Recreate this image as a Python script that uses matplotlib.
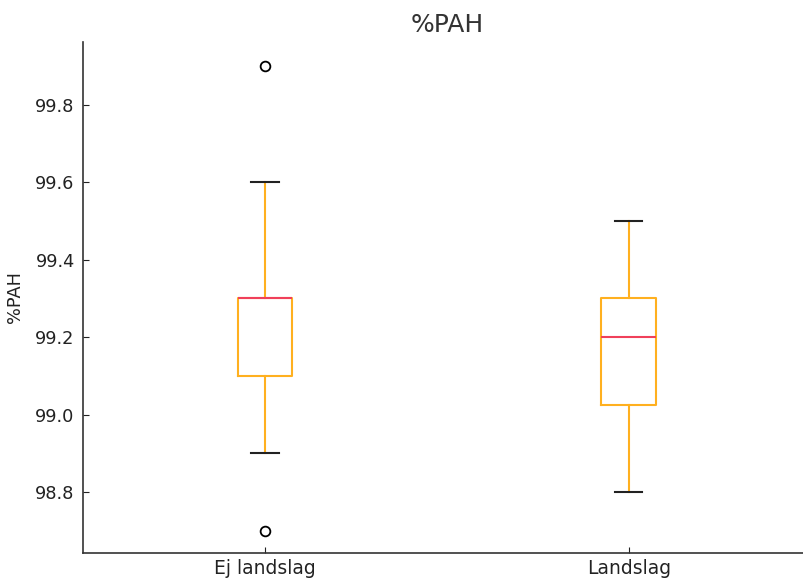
import matplotlib.pyplot as plt

# Box statistics
labels = ['Ej landslag', 'Landslag']
whislo = [98.9, 98.8]
q1 = [99.1, 99.025]
med = [99.3, 99.2]
q3 = [99.3, 99.3]
whishi = [99.6, 99.5]
fliers = [[98.7, 99.9], []]

stats = []
for i in range(len(labels)):
    stats.append({'label': labels[i], 'whislo': whislo[i], 'q1': q1[i],
                  'med': med[i], 'q3': q3[i], 'whishi': whishi[i],
                  'fliers': fliers[i]})

fig = plt.figure(figsize=(8.04, 5.78), dpi=100)
ax = fig.add_axes([0.1032, 0.0433, 0.905, 0.884])

ax.bxp(stats, widths=0.15, showfliers=True,
       boxprops=dict(color='#FFB01F', linewidth=1.5),
       whiskerprops=dict(color='#FFB01F', linewidth=1.5),
       capprops=dict(color='#222222', linewidth=1.5),
       medianprops=dict(color='#F0405A', linewidth=1.5),
       flierprops=dict(marker='o', markerfacecolor='none',
                       markeredgecolor='black', markersize=7, markeredgewidth=1.3))

ax.set_xlim(0.5, 2.5)
ax.set_ylim(98.642, 99.963)
ax.set_yticks([98.8, 99.0, 99.2, 99.4, 99.6, 99.8])
ax.set_yticklabels(['98.8', '99.0', '99.2', '99.4', '99.6', '99.8'])
ax.spines['top'].set_visible(False)
ax.spines['right'].set_visible(False)
for s in ['left', 'bottom']:
    ax.spines[s].set_color('#333333')
    ax.spines[s].set_linewidth(1.2)
ax.tick_params(labelsize=12.8, colors='#222222', direction='in', length=4, pad=6)
ax.tick_params(axis='x', labelsize=13.5, pad=4)
ax.set_ylabel('%PAH', fontsize=12.8, color='#222222', labelpad=8)
ax.set_title('%PAH', fontsize=18, color='#333333', pad=7)

fig.savefig('out.png', dpi=100)
